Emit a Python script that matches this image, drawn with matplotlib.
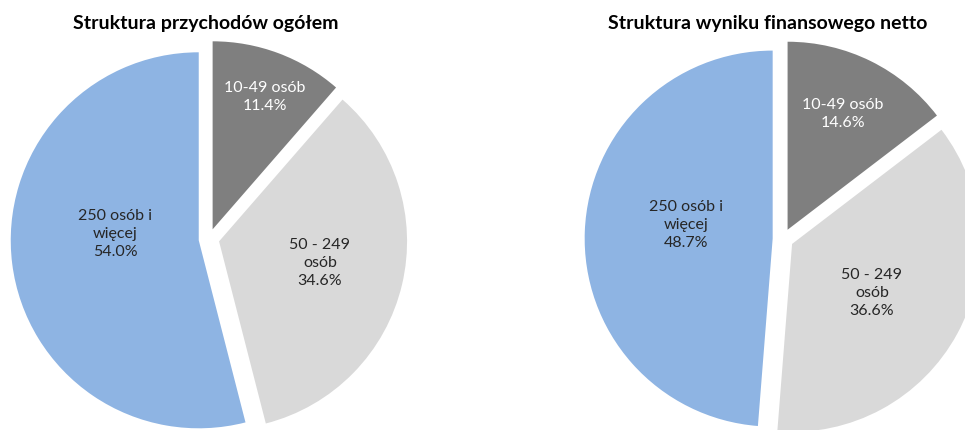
import matplotlib
matplotlib.use("Agg")
import matplotlib.pyplot as plt
import numpy as np

categories = ["10-49 osób", "50 - 249\nosób", "250 osób i\nwięcej"]
revenue_share = [11.4, 34.6, 54.0]
result_share = [14.6, 36.6, 48.7]
titles = ["Struktura przychodów ogółem", "Struktura wyniku finansowego netto"]

colors = ["#7f7f7f", "#d9d9d9", "#8eb4e3"]
label_colors = ["#ffffff", "#262626", "#262626"]

W, H = 965, 430
fig = plt.figure(figsize=(W / 100, H / 100), dpi=100)

# layout (pixel centres, radius, label offsets in radius units)
layouts = [
    dict(cx=209, cy=239, R=188, title_x=206,
         lab=[(0.298, 0.755), (0.59, -0.128), (-0.50, 0.027)]),
    dict(cx=783, cy=239, R=188, title_x=768,
         lab=[(0.319, 0.665), (0.473, -0.287), (-0.516, 0.074)]),
]
EXPL = 0.055
LIM = 1.25

for vals, title, lay in zip([revenue_share, result_share], titles, layouts):
    cx, cy, R = lay["cx"], lay["cy"], lay["R"]
    half = LIM * R
    ax = fig.add_axes([(cx - half) / W, (H - cy - half) / H, 2 * half / W, 2 * half / H])
    wedges, _ = ax.pie(vals, colors=colors, startangle=90, counterclock=False,
                       explode=[EXPL] * len(vals), radius=1.0,
                       wedgeprops=dict(linewidth=0))
    ax.set_xlim(-LIM, LIM)
    ax.set_ylim(-LIM, LIM)
    ax.set_aspect("equal")
    ax.axis("off")
    for w, cat, v, (lx, ly), lc in zip(wedges, categories, vals, lay["lab"], label_colors):
        ax.text(lx, ly, f"{cat}\n{v:.1f}%",
                ha="center", va="center", fontsize=11.5, family="Lato",
                color=lc, linespacing=1.4)
    fig.text(lay["title_x"] / W, 1 - 24 / H, title, ha="center", va="center",
             fontsize=14, fontweight="bold", family="Lato", color="#000000")

fig.savefig("out.png", dpi=100)
